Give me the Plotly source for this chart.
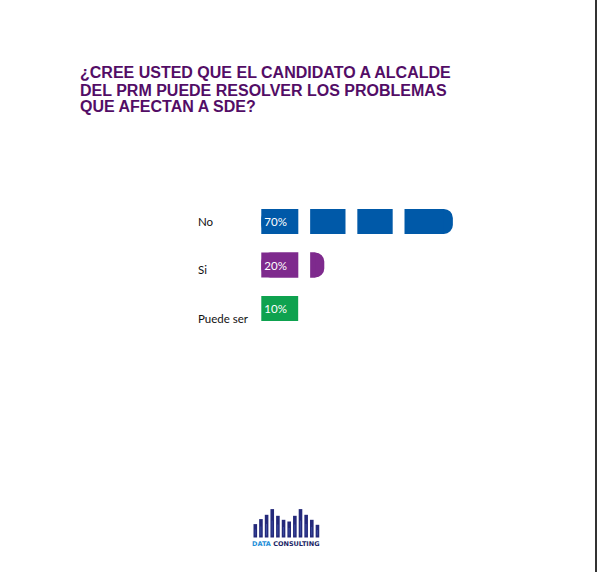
import plotly.graph_objects as go

# ---------------- data ----------------
categories = ["No", "Si", "Puede ser"]
values = [70, 20, 10]
value_labels = ["70%", "20%", "10%"]
bar_colors = ["#0059A8", "#7E2A8D", "#0EA24F"]
title_lines = [
    "¿CREE USTED QUE EL CANDIDATO A ALCALDE",
    "DEL PRM PUEDE RESOLVER LOS PROBLEMAS",
    "QUE AFECTAN A SDE?",
]
logo_heights = [13.4, 18.4, 22.7, 28.4, 21.7, 17.7, 16.0, 21.7, 28.4, 22.7, 17.7, 12.7]

# ---------------- layout constants ----------------
W, H = 597, 572
ML, MR, MT, MB = 170, 67, 156, 198
PW, PH = W - ML - MR, H - MT - MB
XR = (-40, 100)
UNIT_PX = PW / (XR[1] - XR[0])
BASE = -4.5            # pictogram starts slightly left of zero
GAP0, GAP_PERIOD, GAP_W, N_GAPS = 9.9, 18.35, 4.6, 3
CORNER = 9
CORNER_U = CORNER / UNIT_PX
TITLE_COLOR = "#530D66"
BG = "#FFFFFF"


def px_x(px):
    return (px - ML) / PW


def px_y(py):
    return (H - MB - py) / PH


gaps = [(GAP0 + k * GAP_PERIOD, GAP0 + k * GAP_PERIOD + GAP_W) for k in range(N_GAPS)]

fig = go.Figure()
for i, (cat, v, lab, col) in enumerate(zip(categories, values, value_labels, bar_colors)):
    ends_in_gap = any(a <= v <= b for a, b in gaps)
    if not ends_in_gap:
        # rounded tip
        fig.add_trace(go.Bar(
            y=[cat], x=[v - BASE], base=BASE, orientation="h",
            marker=dict(color=col, line=dict(width=0), cornerradius=CORNER),
            width=0.573, hoverinfo="skip", showlegend=False,
        ))
    sq_len = (v - BASE) if ends_in_gap else (v - BASE - CORNER_U)
    fig.add_trace(go.Bar(
        y=[cat], x=[sq_len], base=BASE, orientation="h",
        marker=dict(color=col, line=dict(width=0)),
        width=0.573,
        text=[lab], textposition="inside", insidetextanchor="start",
        textfont=dict(color="white", size=11.5, family="Lato"),
        hoverinfo="skip", showlegend=False,
    ))

shapes = []
for a, b in gaps:
    shapes.append(dict(type="rect", xref="x", yref="paper", x0=a, x1=b, y0=0, y1=1,
                       fillcolor=BG, line=dict(width=0), layer="above"))

# right page border
shapes.append(dict(type="line", xref="paper", yref="paper",
                   x0=px_x(596), x1=px_x(596), y0=px_y(0), y1=px_y(H),
                   line=dict(color="#333333", width=2)))

# logo bars
logo_x0, logo_step, logo_bw, logo_bottom = 253.5, 5.65, 3.6, 537.5
for k, h in enumerate(logo_heights):
    cx = logo_x0 + k * logo_step
    shapes.append(dict(type="rect", xref="paper", yref="paper",
                       x0=px_x(cx), x1=px_x(cx + logo_bw),
                       y0=px_y(logo_bottom), y1=px_y(logo_bottom - h),
                       fillcolor="#24297A", line=dict(width=0), layer="above"))
    shapes.append(dict(type="rect", xref="paper", yref="paper",
                       x0=px_x(cx + 1.2), x1=px_x(cx + 2.2),
                       y0=px_y(logo_bottom - 2), y1=px_y(logo_bottom - h * 0.6),
                       fillcolor="#3A4AA0", line=dict(width=0), layer="above"))

annotations = []
for j, line in enumerate(title_lines):
    annotations.append(dict(xref="paper", yref="paper", x=px_x(78), y=px_y(73 + 17 * j),
                            xanchor="left", yanchor="middle", showarrow=False,
                            text=f"<b>{line}</b>",
                            font=dict(family="Liberation Sans", size=16, color=TITLE_COLOR)))
for i, cat in enumerate(categories):
    annotations.append(dict(xref="paper", yref="y", x=px_x(196), y=cat, yshift=-4.8 * i,
                            xanchor="left", yanchor="middle", showarrow=False,
                            text=cat, font=dict(family="Lato", size=11.5, color="#111111")))

annotations.append(dict(xref="paper", yref="paper", x=px_x(286), y=px_y(544),
                        xanchor="center", yanchor="middle", showarrow=False,
                        text="<b><span style='color:#1E8FD8'>DATA</span> CONSULTING</b>",
                        font=dict(family="DejaVu Sans", size=6.5, color="#1B1F66")))

fig.update_layout(
    width=W, height=H,
    margin=dict(l=ML, r=MR, t=MT, b=MB, pad=0),
    paper_bgcolor=BG, plot_bgcolor=BG,
    barmode="overlay",
    xaxis=dict(range=list(XR), visible=False, fixedrange=True),
    yaxis=dict(categoryorder="array", categoryarray=categories, range=[3.5, -1.5],
               visible=False, fixedrange=True),
    shapes=shapes, annotations=annotations,
    showlegend=False,
)

fig.write_html("out.html", config={"displayModeBar": False},
               post_script="document.body.style.margin='0';")
